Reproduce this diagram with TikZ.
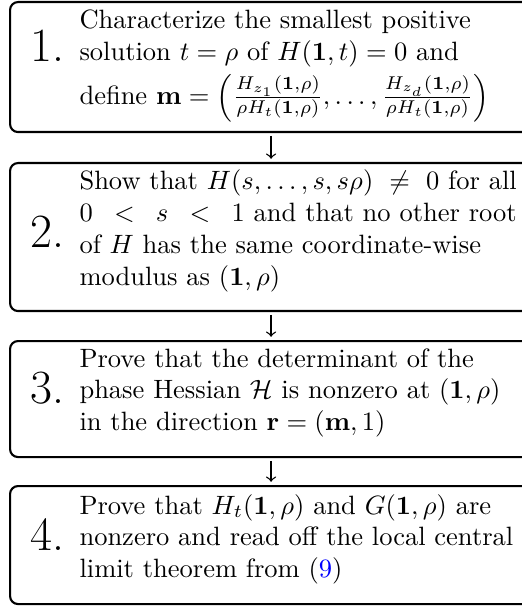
\documentclass[tikz,border=0pt]{standalone}
\usepackage{amsmath,amssymb}
\usepackage{xcolor}
\tikzset{
  stepbox/.style={draw, line width=0.8pt, rounded corners=3pt, inner sep=0pt, minimum width=197pt, anchor=north west},
  numlabel/.style={inner sep=0pt, font=\fontsize{18}{20}\selectfont, anchor=base west},
  steptext/.style={inner sep=0pt, anchor=base west, text width=190pt, align=left, font=\fontsize{10}{12}\selectfont},
  flow/.style={-to, line width=0.5pt, shorten <=1pt, shorten >=1.2pt}
}
\begin{document}
\begin{tikzpicture}[x=0.3774pt,y=-0.3774pt]
\useasboundingbox (0,0) rectangle (522,607);
\clip (0,0) rectangle (522,607);
% boxes
\node[stepbox, minimum height=49.06pt] (b1) at (9,1) {};
\node[stepbox, minimum height=55.85pt] (b2) at (9,162) {};
\node[stepbox, minimum height=43.78pt] (b3) at (9,340) {};
\node[stepbox, minimum height=44.53pt] (b4) at (9,485) {};
% numbers
\node[numlabel] (n1) at (30,62) {1.};
\node[numlabel] (n2) at (30,248) {2.};
\node[numlabel] (n3) at (30,403) {3.};
\node[numlabel] (n4) at (30,550) {4.};
% texts
\node[steptext] (t1) at (79,29) {Characterize the smallest positive\\
solution $t=\rho$ of $H(\mathbf{1},t)=0$ and\\[1.5pt]
define $\mathbf{m}=\left(\frac{H_{z_1}(\mathbf{1},\rho)}{\rho H_t(\mathbf{1},\rho)},\dots,\frac{H_{z_d}(\mathbf{1},\rho)}{\rho H_t(\mathbf{1},\rho)}\right)$};
\node[steptext] (t2) at (79,190) {\makebox[165pt][s]{Show that $H(s,\dots,s,s\rho)\neq 0$ for all}\\
\makebox[165pt][s]{$0<s<1$ and that no other root}\\
of $H$ has the same coordinate-wise\\
modulus as $(\mathbf{1},\rho)$};
\node[steptext] (t3) at (79,367) {Prove that the determinant of the\\
phase Hessian $\mathcal{H}$ is nonzero at $(\mathbf{1},\rho)$\\
in the direction $\mathbf{r}=(\mathbf{m},1)$};
\node[steptext] (t4) at (79,514) {Prove that $H_t(\mathbf{1},\rho)$ and $G(\mathbf{1},\rho)$ are\\
nonzero and read off the local central\\
limit theorem from (\textcolor{blue}{9})};
% connectors
\draw[flow] (b1.south) -- (b2.north);
\draw[flow] (b2.south) -- (b3.north);
\draw[flow] (b3.south) -- (b4.north);
\end{tikzpicture}
\end{document}
